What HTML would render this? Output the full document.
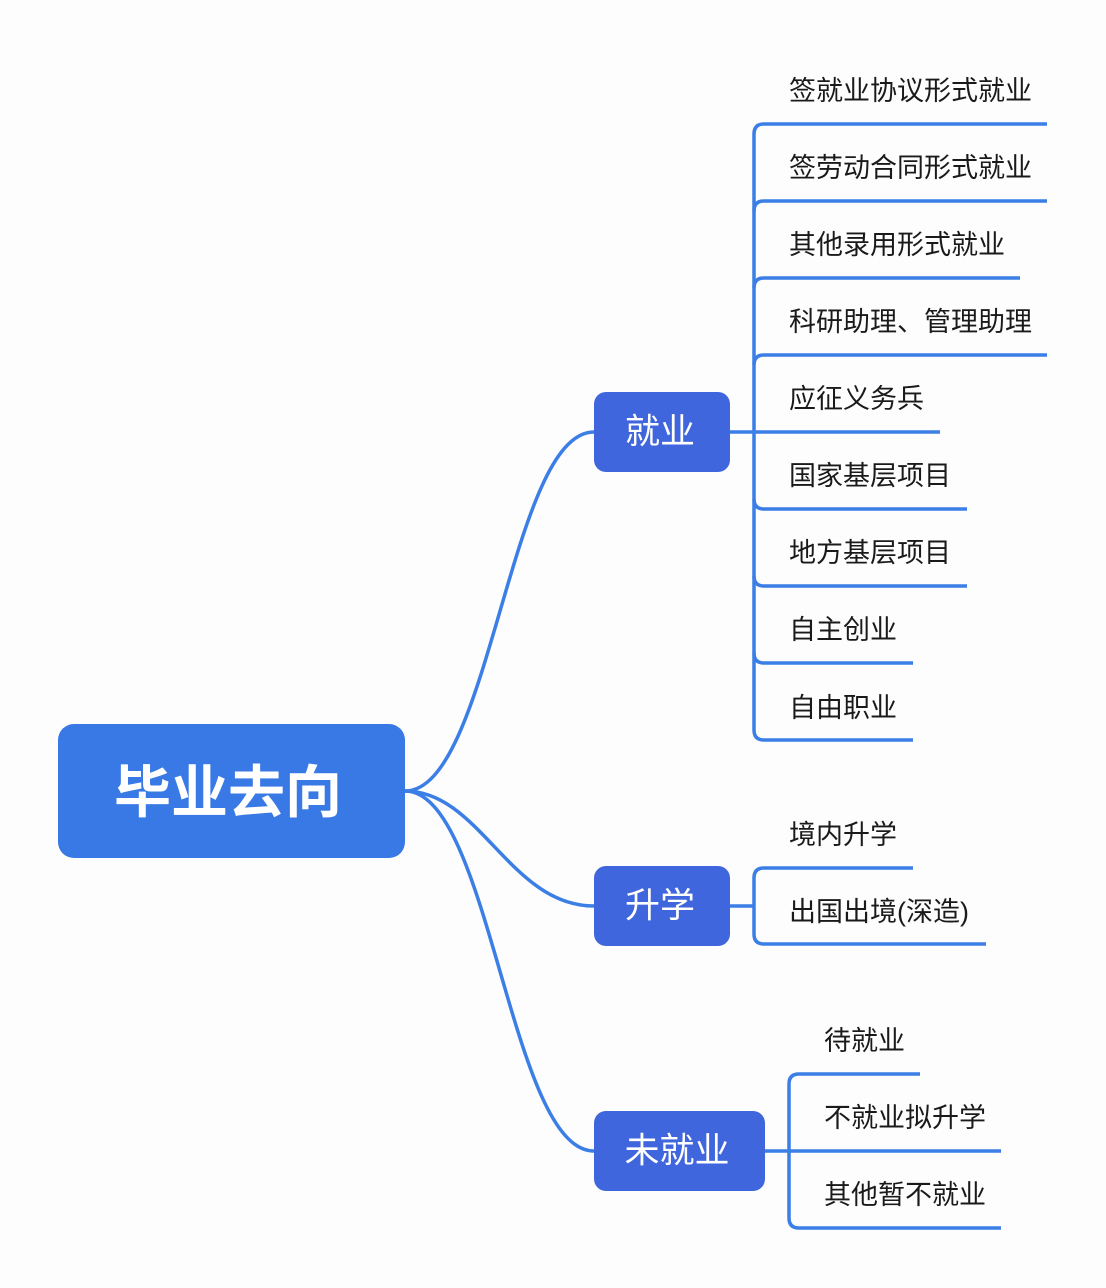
<!DOCTYPE html>
<html><head><meta charset="utf-8"><style>
html,body{margin:0;padding:0;background:#fdfdfd;}
svg{display:block;}
text{font-family:"Liberation Sans","Noto Sans CJK SC",sans-serif;}
</style></head><body>
<svg width="1106" height="1288" viewBox="0 0 1106 1288" xmlns="http://www.w3.org/2000/svg">
<rect width="1106" height="1288" fill="#fdfdfd"/>
<g fill="none" stroke="#3a7ee6" stroke-width="3.5" stroke-linecap="butt">
  <path d="M405,791 C490,791 510,432 594,432"/>
  <path d="M405,791 C480,791 510,906 594,906"/>
  <path d="M405,791 C490,791 510,1151 594,1151"/>
  <path d="M730,432 H754"/>
  <path d="M754,432 V134 Q754,124 764,124 H1047"/>
  <path d="M754,211 Q754,201 764,201 H1047"/>
  <path d="M754,288 Q754,278 764,278 H1020"/>
  <path d="M754,365 Q754,355 764,355 H1047"/>
  <path d="M754,432 H940"/>
  <path d="M754,432 V730 Q754,740 764,740 H913"/>
  <path d="M754,499 Q754,509 764,509 H967"/>
  <path d="M754,576 Q754,586 764,586 H967"/>
  <path d="M754,653 Q754,663 764,663 H913"/>
  <path d="M730,906 H754"/>
  <path d="M754,906 V878 Q754,868 764,868 H913"/>
  <path d="M754,906 V934 Q754,944 764,944 H986"/>
  <path d="M765,1151 H1001"/>
  <path d="M789,1151 V1084 Q789,1074 799,1074 H920"/>
  <path d="M789,1151 V1218 Q789,1228 799,1228 H1001"/>
</g>
<rect x="58" y="724" width="347" height="134" rx="16" fill="#3879e6"/>
<text x="228" y="793" text-anchor="middle" dominant-baseline="central" fill="#fff" font-size="57" font-weight="bold">毕业去向</text>
<rect x="594" y="392" width="136" height="80" rx="12" fill="#4066dd"/>
<text x="660" y="432" text-anchor="middle" dominant-baseline="central" fill="#fff" font-size="35">就业</text>
<rect x="594" y="866" width="136" height="80" rx="12" fill="#4066dd"/>
<text x="660" y="906" text-anchor="middle" dominant-baseline="central" fill="#fff" font-size="35">升学</text>
<rect x="594" y="1111" width="171" height="80" rx="12" fill="#4066dd"/>
<text x="677" y="1151" text-anchor="middle" dominant-baseline="central" fill="#fff" font-size="35">未就业</text>
<g fill="#1a1a1a" font-size="27" dominant-baseline="central">
  <text x="789" y="91">签就业协议形式就业</text>
  <text x="789" y="168">签劳动合同形式就业</text>
  <text x="789" y="245">其他录用形式就业</text>
  <text x="789" y="322">科研助理、管理助理</text>
  <text x="789" y="399">应征义务兵</text>
  <text x="789" y="476">国家基层项目</text>
  <text x="789" y="553">地方基层项目</text>
  <text x="789" y="630">自主创业</text>
  <text x="789" y="708">自由职业</text>
  <text x="789" y="835">境内升学</text>
  <text x="789" y="912">出国出境(深造)</text>
  <text x="824" y="1041">待就业</text>
  <text x="824" y="1118">不就业拟升学</text>
  <text x="824" y="1195">其他暂不就业</text>
</g>
</svg>
</body></html>
